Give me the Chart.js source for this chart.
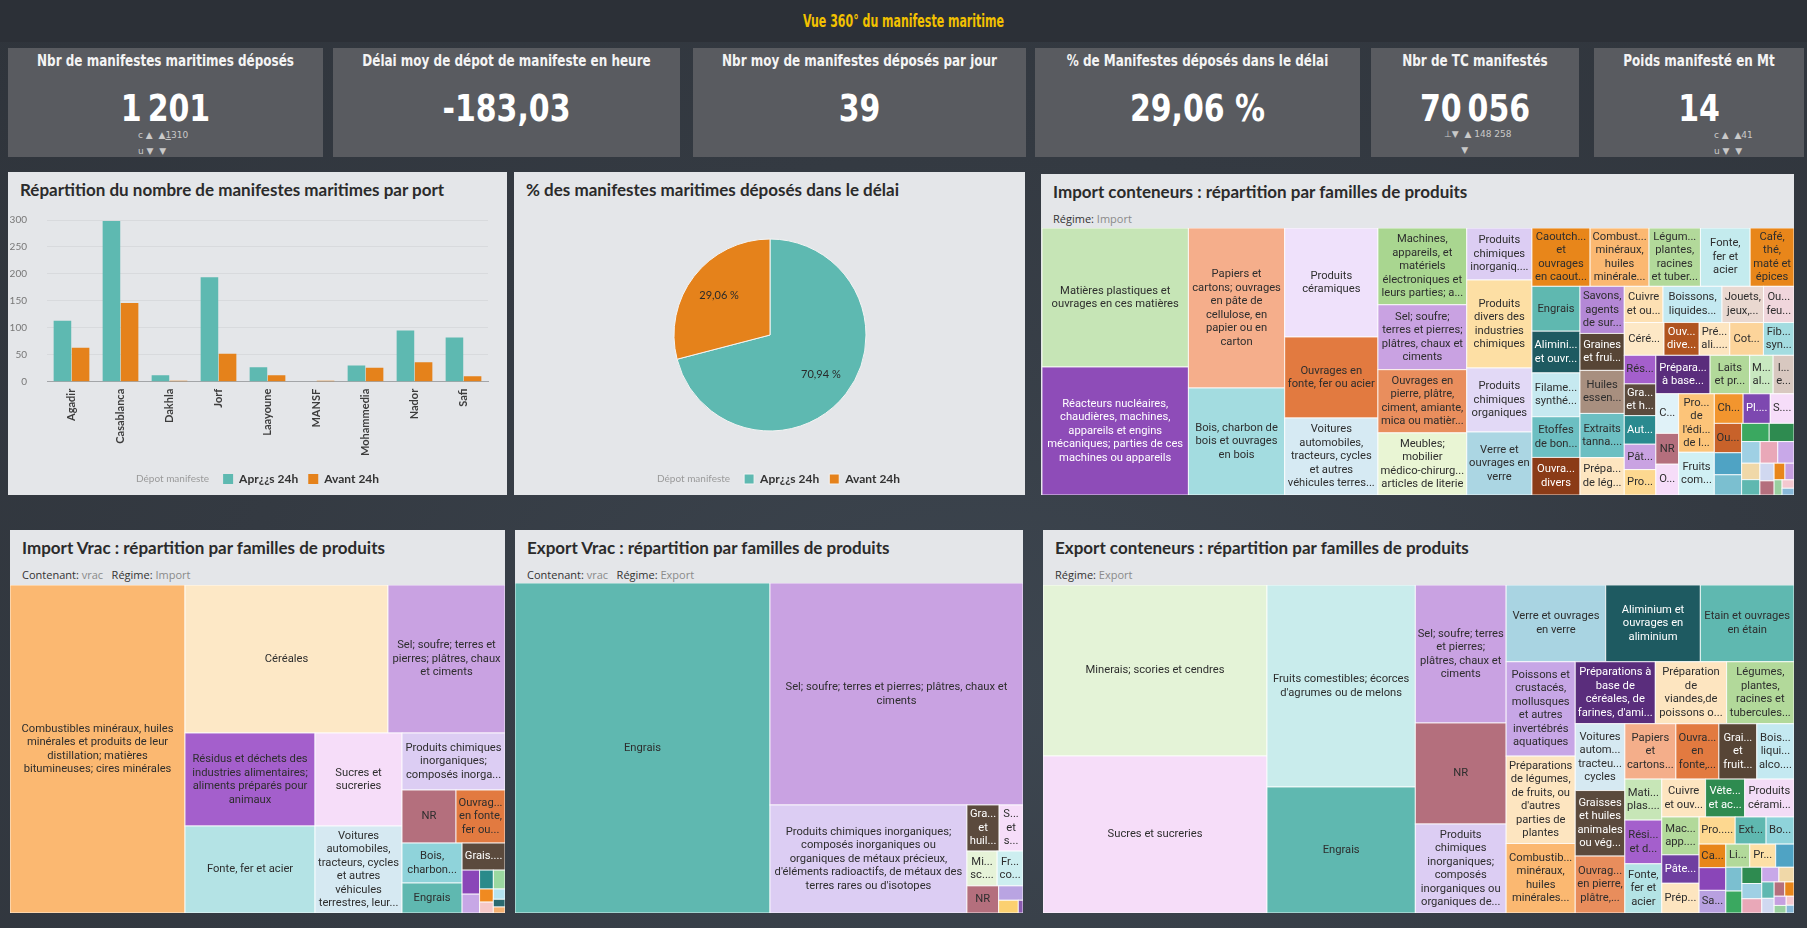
<!DOCTYPE html>
<html lang="fr">
<head>
<meta charset="utf-8">
<title>Vue 360° du manifeste maritime</title>
<script src="https://cdn.jsdelivr.net/npm/chart.js@4.4.1/dist/chart.umd.min.js"></script>
<style>
  html, body { margin: 0; padding: 0; }
  body { width: 1807px; height: 928px; overflow: hidden; position: relative;
         background: radial-gradient(ellipse at 55% 75%, #3d4650 0%, #343a42 55%, #2f343b 100%);
         font-family: Lato, 'Open Sans', sans-serif; }
  .topbar { position: absolute; left: 0; top: 0; width: 1807px; height: 42px; background: #2c3037; }
  .main-title { position: absolute; left: 0; top: 10px; width: 1807px; text-align: center; color: #f2c100;
                font: bold 18px 'DejaVu Sans Condensed', Roboto, sans-serif; transform: scaleX(0.68); }
  .kpi { position: absolute; top: 48px; height: 109px; background: #595b60; }
  .ktitle { position: absolute; top: 4px; left: -40px; right: -40px; text-align: center; color: #f4f4f4;
            font: bold 15.5px 'DejaVu Sans Condensed', Roboto, sans-serif; transform: scaleX(0.86); }
  .kval { position: absolute; top: 39px; left: -40px; right: -40px; text-align: center; color: #ffffff;
          font: bold 37px 'DejaVu Sans Condensed', Roboto, sans-serif; transform: scaleX(0.9); }
  .ind { position: absolute; color: #c9c9c9; font: 9px 'DejaVu Sans', sans-serif; line-height: 16px; white-space: pre; }
  .panel { position: absolute; background: #e4e6e9; }
  .ptitle { position: absolute; left: 12px; top: 7px; font: 700 17px Lato, sans-serif; color: #2b2b2b; white-space: nowrap; }
  .psub { position: absolute; left: 12px; top: 37px; font: 11px 'Open Sans', sans-serif; color: #333; white-space: nowrap; }
  .psub span { color: #8a8a8a; }
  canvas { position: absolute; }
</style>
</head>
<body>
<div class="topbar"></div>
<div class="main-title">Vue 360° du manifeste maritime</div>
<div id="kpis"></div>

<div class="ind" style="left:138px;top:127px">c ▲  ▲<u>1</u>310
u ▼  ▼</div>
<div class="ind" style="left:1444px;top:126px">⊥▼  ▲ 148 258
      ▼</div>
<div class="ind" style="left:1714px;top:127px">c ▲  ▲41
u ▼  ▼</div>

<div class="panel" style="left:8px;top:172px;width:499px;height:323px">
  <div class="ptitle">Répartition du nombre de manifestes maritimes par port</div>
</div>
<div class="panel" style="left:514px;top:172px;width:511px;height:323px">
  <div class="ptitle">% des manifestes maritimes déposés dans le délai</div>
</div>
<div class="panel" style="left:1041px;top:174px;width:753px;height:321px">
  <div class="ptitle">Import conteneurs : répartition par familles de produits</div>
  <div class="psub">Régime: <span>Import</span></div>
</div>
<div class="panel" style="left:10px;top:530px;width:495px;height:383px">
  <div class="ptitle">Import Vrac : répartition par familles de produits</div>
  <div class="psub">Contenant: <span>vrac</span> &nbsp; Régime: <span>Import</span></div>
</div>
<div class="panel" style="left:515px;top:530px;width:508px;height:383px">
  <div class="ptitle">Export Vrac : répartition par familles de produits</div>
  <div class="psub">Contenant: <span>vrac</span> &nbsp; Régime: <span>Export</span></div>
</div>
<div class="panel" style="left:1043px;top:530px;width:751px;height:383px">
  <div class="ptitle">Export conteneurs : répartition par familles de produits</div>
  <div class="psub">Régime: <span>Export</span></div>
</div>

<canvas id="barPorts" width="499" height="301" style="left:8px;top:194px"></canvas>
<canvas id="pieDelai" width="510" height="290" style="left:515px;top:205px"></canvas>
<canvas id="tmImportCont" width="752" height="267" style="left:1042px;top:228px"></canvas>
<canvas id="tmImportVrac" width="495" height="328" style="left:10px;top:585px"></canvas>
<canvas id="tmExportVrac" width="508" height="330" style="left:515px;top:583px"></canvas>
<canvas id="tmExportCont" width="751" height="328" style="left:1043px;top:585px"></canvas>

<script>
// ---------- Données ----------
const kpiTitles = ['Nbr de manifestes maritimes déposés', 'Délai moy de dépot de manifeste en heure',
  'Nbr moy de manifestes déposés par jour', '% de Manifestes déposés dans le délai',
  'Nbr de TC manifestés', 'Poids manifesté en Mt'];
const kpiValues = ['1\u2009201', '-183,03', '39', '29,06 %', '70\u2009056', '14'];

const ports = ['Agadir', 'Casablanca', 'Dakhla', 'Jorf', 'Laayoune', 'MANSF', 'Mohammedia', 'Nador', 'Safi'];
const apres24h = [113, 298, 12, 194, 27, 1, 30, 95, 82];
const avant24h = [63, 146, 2, 52, 12, 2, 26, 36, 10];

const depotTitle = 'Dépot manifeste';
const depotLabels = ['Apr¿¿s 24h', 'Avant 24h'];
const depotValues = [852, 349];

// Import conteneurs
const impContLabels = [
  'Matières plastiques et ouvrages en ces matières',
  'Réacteurs nucléaires, chaudières, machines, appareils et engins mécaniques; parties de ces machines ou appareils',
  'Papiers et cartons; ouvrages en pâte de cellulose, en papier ou en carton',
  'Bois, charbon de bois et ouvrages en bois',
  'Produits céramiques',
  'Ouvrages en fonte, fer ou acier',
  'Voitures automobiles, tracteurs, cycles et autres véhicules terrestres, leurs parties',
  'Machines, appareils, et matériels électroniques et leurs parties; appareils d\'enregistrement',
  'Sel; soufre; terres et pierres; plâtres, chaux et ciments',
  'Ouvrages en pierre, plâtre, ciment, amiante, mica ou matières analogues',
  'Meubles; mobilier médico-chirurgical; articles de literie',
  'Produits chimiques inorganiques; composés inorganiques ou organiques de métaux précieux',
  'Produits divers des industries chimiques',
  'Produits chimiques organiques',
  'Verre et ouvrages en verre',
  'Caoutchouc et ouvrages en caoutchouc',
  'Combustibles minéraux, huiles minérales et produits de leur distillation',
  'Légumes, plantes, racines et tubercules alimentaires',
  'Fonte, fer et acier',
  'Café, thé, maté et épices',
  'Engrais',
  'Aliminium et ouvrages en aliminium',
  'Filaments synthétiques ou artificiels',
  'Etoffes de bonneterie',
  'Ouvrages divers',
  'Savons, agents de surface organiques',
  'Graines et fruits oléagineux',
  'Huiles essentielles et résinoïdes',
  'Extraits tannants ou tinctoriaux',
  'Préparations de légumes, de fruits',
  'Cuivre et ouvrages en cuivre',
  'Boissons, liquides alcooliques et vinaigres',
  'Jouets, jeux, articles pour divertissements',
  'Ouates, feutres et nontissés',
  'Céréales',
  'Ouvrages divers en métaux communs',
  'Préparations alimentaires diverses',
  'Coton',
  'Fibres synthétiques ou artificielles discontinues',
  'Résidus et déchets des industries alimentaires',
  'Graisses et huiles animales ou végétales',
  'Autres métaux communs',
  'Pâte de bois',
  'Produits de la minoterie',
  'Préparations à base de céréales, de farines, d\'amidons',
  'Laits et produits de la laiterie',
  'Matières albuminoïdes',
  'Instruments et appareils d\'optique',
  'Chaussures',
  'NR',
  'Objets d\'art',
  'Produits de l\'édition, de la presse',
  'Fruits comestibles; écorces d\'agrumes ou de melons',
  'Chapeaux, guêtres et articles analogues',
  'Plumes et duvets',
  'Sucres et sucreries',
  'Ouvrages en cuir',
  '', '', '', '', '', '', '', '', '', '', '', '', '', '', '', ''
];
const impContValues = [20294, 18688, 15360, 10272, 10137, 7533, 7161, 6800, 5750, 5600, 5500,
  3380, 5720, 4160, 4095, 3381, 3430, 2989, 2891, 2550, 2150, 2000, 2100, 1950, 1800, 2080, 1630,
  1900, 1950, 1650, 1400, 2130, 1500, 1100, 1300, 1150, 1000, 1100, 1000, 900, 1000, 900, 800, 800,
  2080, 1520, 900, 800, 900, 700, 700, 2080, 1520, 850, 800, 700, 800,
  600, 550, 500, 450, 400, 380, 350, 300, 280, 250, 200, 180, 150, 120, 100, 80];

// Import vrac
const impVracLabels = [
  'Combustibles minéraux, huiles minérales et produits de leur distillation; matières bitumineuses; cires minérales',
  'Céréales',
  'Sel; soufre; terres et pierres; plâtres, chaux et ciments',
  'Résidus et déchets des industries alimentaires; aliments préparés pour animaux',
  'Fonte, fer et acier',
  'Sucres et sucreries',
  'Voitures automobiles, tracteurs, cycles et autres véhicules terrestres, leurs parties',
  'Produits chimiques inorganiques; composés inorganiques ou organiques de métaux précieux',
  'NR',
  'Ouvrages en fonte, fer ou acier',
  'Bois, charbon de bois et ouvrages en bois',
  'Engrais',
  'Graisses et huiles animales ou végétales',
  '', '', '', '', '', '', '', '', ''
];
const impVracValues = [57400, 30044, 17316, 12090, 11310, 8091, 7569, 5871, 2862, 2597, 2400, 1800, 1161,
  420, 330, 260, 220, 180, 150, 120, 90, 70];

// Export vrac
const expVracLabels = [
  'Engrais',
  'Sel; soufre; terres et pierres; plâtres, chaux et ciments',
  'Produits chimiques inorganiques; composés inorganiques ou organiques de métaux précieux, d\'éléments radioactifs, de métaux des terres rares ou d\'isotopes',
  'Graisses et huiles animales ou végétales',
  'Sucres et sucreries',
  'Minerais, scories et cendres',
  'Fruits comestibles; écorces d\'agrumes ou de melons',
  'NR',
  '', '', ''
];
const expVracValues = [84150, 56166, 21276, 1485, 1100, 1050, 900, 860, 350, 250, 60];

// Export conteneurs
const expContLabels = [
  'Minerais; scories et cendres',
  'Sucres et sucreries',
  'Fruits comestibles; écorces d\'agrumes ou de melons',
  'Engrais',
  'Sel; soufre; terres et pierres; plâtres, chaux et ciments',
  'NR',
  'Produits chimiques inorganiques; composés inorganiques ou organiques de métaux précieux',
  'Verre et ouvrages en verre',
  'Aliminium et ouvrages en aliminium',
  'Etain et ouvrages en étain',
  'Poissons et crustacés, mollusques et autres invertébrés aquatiques',
  'Préparations de légumes, de fruits, ou d\'autres parties de plantes',
  'Combustibles minéraux, huiles minérales et produits de leur distillation',
  'Préparations à base de céréales, de farines, d\'amidons',
  'Préparation de viandes,de poissons ou de crustacés',
  'Légumes, plantes, racines et tubercules alimentaires',
  'Voitures automobiles, tracteurs, cycles',
  'Graisses et huiles animales ou végétales',
  'Ouvrages en pierre, plâtre, ciment, amiante',
  'Papiers et cartons; ouvrages en pâte de cellulose',
  'Ouvrages en fonte, fer ou acier',
  'Graines et fruits oléagineux',
  'Boissons, liquides alcooliques et vinaigres',
  'Matières plastiques et ouvrages en ces matières',
  'Résidus et déchets des industries alimentaires',
  'Fonte, fer et acier',
  'Cuivre et ouvrages en cuivre',
  'Vêtements et accessoires du vêtement',
  'Produits céramiques',
  'Machines, appareils et matériels électriques',
  'Pâte de bois',
  'Préparations alimentaires diverses',
  'Produits de la minoterie',
  'Extraits tannants ou tinctoriaux',
  'Bois, charbon de bois',
  'Café, thé, maté et épices',
  '',
  'Savons, agents de surface',
  'Lièges et ouvrages en liège',
  'Produits divers',
  '', '', '', '', '', '', '', '', '', '', '', '', '', '', '', ''
];
const expContValues = [37962, 34854, 29694, 18522, 12420, 9090, 8010, 7575, 7200, 7125, 6460, 5984, 4760,
  4920, 4380, 4140, 3286, 3224, 2800, 2800, 2360, 2080, 2040, 1500, 1600, 1800, 1645, 1470, 1850, 1400,
  1050, 1100, 970, 830, 750, 625, 600, 600, 550, 594,
  420, 380, 350, 320, 300, 280, 250, 220, 200, 180, 150, 130, 110, 90, 70, 60];

// ---------- Styles ----------
const TEAL = '#5eb9b1';
const ORANGE = '#e5821b';
const SMALLS = ['#4fa3c4', '#7bbfd0', '#3aa860', '#2e8b50', '#9fd0e4', '#e9a8b8', '#c8a8e8', '#f0d8a8',
  '#5fb8b0', '#d0d8f0', '#b46f7d', '#e8861a', '#c69fe0', '#9ad0a0', '#f4c8d0', '#88b8d8'];

const impContColors = ['#c6e5b6', '#8e4cb8', '#f5ae8b', '#a3dce0', '#efe1fb', '#e27a40', '#d6eaf3', '#a9d690',
  '#c9a2e2', '#e98e5d', '#e9f5d4', '#dccdf3', '#fddfa4', '#e2d9f6', '#abd6e3', '#e8861a', '#fbb871', '#b2d99a',
  '#c4ebee', '#e8861a', '#5fb8b0', '#1e5a61', '#c6e9f0', '#6cbfc2', '#8b3b17', '#b488d6', '#574536', '#a88f7f',
  '#6cbfc2', '#fde5c0', '#fde0b3', '#c4e9f1', '#e9d8d0', '#f0d6dc', '#fde8c6', '#b0541f', '#fde5c0', '#fcd49a',
  '#a3dce0', '#a45fcc', '#5b4a3d', '#2a8a8f', '#c9a2e2', '#fdd890', '#5a2d7c', '#b2d99a', '#c8e8c0', '#d8c8c0',
  '#e0f2f8', '#b46f7d', '#f6ddf9', '#fcc479', '#d0f0f4', '#f2952e', '#7d48b0', '#f6ddf9', '#c8622a'
].concat(SMALLS);
const impVracColors = ['#fbb871', '#fde8c6', '#c9a2e2', '#a45fcc', '#b4e3e5', '#f6ddf9', '#d6e9f2', '#dccdf3',
  '#b46f7d', '#e27a40', '#8fd3da', '#5fb8b0', '#5b4a3d',
  '#8a46b8', '#c7a7e6', '#2a8a8a', '#9bd8a0', '#f08a20', '#f5c8c8', '#b5e3f0', '#2a6a70', '#f5b070'];
const expVracColors = ['#5fb8b0', '#c9a2e2', '#dccdf3', '#5b4a3d', '#f6ddf9', '#e6f3d8', '#cdeef0', '#b46f7d',
  '#b9a4e2', '#fbd070', '#8a5ab0'];
const expContColors = ['#e4f3d7', '#f6ddf9', '#c9ecec', '#5fb8b0', '#c9a2e2', '#b46f7d', '#dccdf3', '#a9d4e2',
  '#1e5a61', '#5fb8b0', '#c7a6e6', '#fde5c0', '#fbb871', '#5a2d7c', '#fde5c0', '#b2d99a', '#d6e9f2', '#5b4a3d',
  '#e88d5c', '#f4ae8a', '#e27a40', '#574536', '#c4e9f1', '#c7e6b7', '#a45fcc', '#b4e3e5', '#fde5c0', '#2e8b50',
  '#f3dcf6', '#b2d99a', '#6f3fa0', '#fde5c0', '#fdd890', '#5fb8b0', '#8fd3da', '#e8861a', '#8a46b8', '#b8a0e0',
  '#b2d99a', '#fde0a6'].concat(SMALLS);

const LABEL_FONT = '11.2px Roboto, "Open Sans", sans-serif';
const LINE_H = 13.5;

Chart.defaults.font.family = 'Lato, "Open Sans", sans-serif';

// ---------- KPI ----------
const kpiBoxes = [[8, 315], [333, 347], [693, 333], [1035, 325], [1371, 208], [1594, 210]];
const kpiHost = document.getElementById('kpis');
kpiTitles.forEach((t, i) => {
  const d = document.createElement('div');
  d.className = 'kpi';
  d.style.left = kpiBoxes[i][0] + 'px';
  d.style.width = kpiBoxes[i][1] + 'px';
  d.innerHTML = '<div class="ktitle"></div><div class="kval"></div>';
  d.querySelector('.ktitle').textContent = t;
  d.querySelector('.kval').textContent = kpiValues[i];
  kpiHost.appendChild(d);
});

// ---------- Légende avec titre "Dépot manifeste" ----------
function withTitleItem(chart) {
  const base = chart.config.type === 'pie'
    ? Chart.overrides.pie.plugins.legend.labels.generateLabels(chart)
    : Chart.defaults.plugins.legend.labels.generateLabels(chart);
  base.unshift({ text: 'Dépot manifes', fillStyle: 'rgba(0,0,0,0)', strokeStyle: 'rgba(0,0,0,0)',
    lineWidth: 0, fontColor: 'rgba(0,0,0,0)', hidden: false, datasetIndex: -1, index: -1 });
  return base;
}
const legendTitlePlugin = {
  id: 'legendTitle',
  afterDraw(chart) {
    const boxes = chart.legend && chart.legend.legendHitBoxes;
    if (!boxes || boxes.length < 2) return;
    const b = boxes[1];
    const ctx = chart.ctx;
    ctx.save();
    ctx.font = '10px Lato, sans-serif';
    ctx.fillStyle = '#9a9a9a';
    ctx.textAlign = 'right';
    ctx.textBaseline = 'middle';
    ctx.fillText(depotTitle, b.left - 14, b.top + b.height / 2);
    ctx.restore();
  }
};
const legendOpts = {
  position: 'bottom',
  labels: { boxWidth: 10, boxHeight: 10, padding: 10, color: '#333',
    font: { size: 12, weight: 'bold' }, generateLabels: withTitleItem }
};

// ---------- Barres par port ----------
new Chart(document.getElementById('barPorts'), {
  type: 'bar',
  data: {
    labels: ports,
    datasets: [
      { label: depotLabels[0], data: apres24h, backgroundColor: TEAL, categoryPercentage: 0.74, barPercentage: 0.97 },
      { label: depotLabels[1], data: avant24h, backgroundColor: ORANGE, categoryPercentage: 0.74, barPercentage: 0.97 }
    ]
  },
  options: {
    responsive: false,
    animation: false,
    layout: { padding: { top: 9, left: 2, right: 19, bottom: 0 } },
    plugins: { legend: legendOpts, tooltip: { enabled: false } },
    scales: {
      x: {
        grid: { display: false, drawTicks: false },
        border: { color: '#a3a5a8' },
        ticks: { minRotation: 90, maxRotation: 90, padding: 7, color: '#3c3c3c',
          font: { size: 11, weight: 'bold' } },
        afterFit(scale) { scale.height += 0; }
      },
      y: {
        min: 0, max: 300,
        ticks: { stepSize: 50, padding: 20, color: '#777', font: { size: 10 } },
        grid: { color: '#d8dadd', drawTicks: false },
        border: { display: false },
        afterFit(scale) { scale.width = 37; }
      }
    }
  },
  plugins: [legendTitlePlugin]
});

// ---------- Secteurs ----------
const pieLabelPlugin = {
  id: 'pieLabels',
  afterDatasetsDraw(chart) {
    const ctx = chart.ctx;
    const ds = chart.data.datasets[0].data;
    const total = ds.reduce((a, b) => a + b, 0);
    ctx.save();
    ctx.font = '11px Lato, sans-serif';
    ctx.fillStyle = '#2a2a2a';
    ctx.textAlign = 'center';
    ctx.textBaseline = 'middle';
    chart.getDatasetMeta(0).data.forEach((arc, i) => {
      const p = arc.getProps(['x', 'y', 'startAngle', 'endAngle', 'outerRadius'], true);
      const mid = (p.startAngle + p.endAngle) / 2;
      const r = p.outerRadius * 0.67;
      const txt = (ds[i] / total * 100).toFixed(2).replace('.', ',') + ' %';
      ctx.fillText(txt, p.x + Math.cos(mid) * r, p.y + Math.sin(mid) * r);
    });
    ctx.restore();
  }
};
new Chart(document.getElementById('pieDelai'), {
  type: 'pie',
  data: {
    labels: depotLabels,
    datasets: [{ data: depotValues, backgroundColor: [TEAL, ORANGE], borderColor: '#f3f3f3', borderWidth: 1, radius: 96 }]
  },
  options: {
    responsive: false,
    animation: false,
    layout: { padding: { top: 2 } },
    plugins: { legend: legendOpts, tooltip: { enabled: false } }
  },
  plugins: [legendTitlePlugin, pieLabelPlugin]
});

// ---------- Treemaps ----------
function squarify(vals, x0, y0, w0, h0) {
  const out = [];
  let x = x0, y = y0, w = w0, h = h0, i = 0;
  const worst = (row, side) => {
    const s = row.reduce((a, b) => a + b, 0);
    const t = s / side;
    let m = 0;
    row.forEach(v => { const l = v / t; m = Math.max(m, l / t, t / l); });
    return m;
  };
  while (i < vals.length) {
    const side = Math.min(w, h);
    let row = [vals[i]], j = i + 1, best = worst(row, side);
    while (j < vals.length) {
      const cand = row.concat(vals[j]);
      const wr = worst(cand, side);
      if (wr > best) break;
      row = cand; best = wr; j++;
    }
    const sum = row.reduce((a, b) => a + b, 0);
    if (w >= h) {
      const cw = sum / h;
      let cy = y;
      row.forEach(v => { out.push({ x: x, y: cy, w: cw, h: v / cw }); cy += v / cw; });
      x += cw; w -= cw;
    } else {
      const rh = sum / w;
      let cx = x;
      row.forEach(v => { out.push({ x: cx, y: y, w: v / rh, h: rh }); cx += v / rh; });
      y += rh; h -= rh;
    }
    i = j;
  }
  return out;
}

function cut(ctx, s, maxW) {
  if (ctx.measureText(s).width <= maxW) return s;
  let t = s;
  while (t.length > 0 && ctx.measureText(t + '...').width > maxW) t = t.slice(0, -1);
  return t.length ? t.trimEnd() + '...' : '';
}

function wrapLabel(ctx, text, maxW, maxLines) {
  const lines = [];
  let cur = '';
  for (const w0 of text.split(' ')) {
    const w = cut(ctx, w0, maxW);
    if (!w) return [];
    const test = cur ? cur + ' ' + w : w;
    if (!cur || ctx.measureText(test).width <= maxW) cur = test;
    else { lines.push(cur); cur = w; }
  }
  if (cur) lines.push(cur);
  if (lines.length <= maxLines) return lines;
  const kept = lines.slice(0, maxLines);
  kept[maxLines - 1] = cut(ctx, kept[maxLines - 1] + ' ' + lines[maxLines], maxW);
  return kept;
}

function isDark(hex) {
  const n = parseInt(hex.slice(1), 16);
  const lum = 0.299 * (n >> 16) + 0.587 * ((n >> 8) & 255) + 0.114 * (n & 255);
  return lum < 115;
}

function treemapPlugin(labels, values, colors) {
  return {
    id: 'treemapCells',
    afterDatasetsDraw(chart) {
      const ctx = chart.ctx;
      const xs = chart.scales.x, ys = chart.scales.y;
      const total = values.reduce((a, b) => a + b, 0);
      const k = (xs.max - xs.min) * (ys.max - ys.min) / total;
      const cells = squarify(values.map(v => v * k), xs.min, ys.min, xs.max - xs.min, ys.max - ys.min);
      cells.forEach((c, i) => {
        const l = xs.getPixelForValue(c.x), r = xs.getPixelForValue(c.x + c.w);
        const t = ys.getPixelForValue(c.y), b = ys.getPixelForValue(c.y + c.h);
        ctx.save();
        ctx.fillStyle = colors[i % colors.length];
        ctx.fillRect(l, t, r - l, b - t);
        ctx.strokeStyle = 'rgba(255,255,255,0.8)';
        ctx.lineWidth = 1;
        ctx.strokeRect(l, t, r - l, b - t);
        const label = labels[i];
        const cw = r - l - 4, ch = b - t - 4;
        if (label && cw >= 12 && ch >= 11) {
          ctx.beginPath();
          ctx.rect(l, t, r - l, b - t);
          ctx.clip();
          ctx.font = LABEL_FONT;
          const maxLines = Math.max(1, Math.floor(ch / LINE_H));
          const lines = wrapLabel(ctx, label, cw, maxLines);
          if (lines.length && lines[0]) {
            ctx.fillStyle = isDark(colors[i % colors.length]) ? '#ffffff' : '#2e2e2e';
            ctx.textAlign = 'center';
            ctx.textBaseline = 'middle';
            const y0 = (t + b) / 2 - (lines.length - 1) * LINE_H / 2;
            lines.forEach((s, n) => ctx.fillText(s, (l + r) / 2, y0 + n * LINE_H));
          }
        }
        ctx.restore();
      });
    }
  };
}

function makeTreemap(id, labels, values, colors) {
  const el = document.getElementById(id);
  return new Chart(el, {
    type: 'scatter',
    data: { datasets: [{ data: [] }] },
    options: {
      responsive: false,
      animation: false,
      layout: { padding: 0 },
      plugins: { legend: { display: false }, tooltip: { enabled: false } },
      scales: {
        x: { type: 'linear', min: 0, max: el.width, display: false },
        y: { type: 'linear', min: 0, max: el.height, reverse: true, display: false }
      }
    },
    plugins: [treemapPlugin(labels, values, colors)]
  });
}

makeTreemap('tmImportCont', impContLabels, impContValues, impContColors);
makeTreemap('tmImportVrac', impVracLabels, impVracValues, impVracColors);
makeTreemap('tmExportVrac', expVracLabels, expVracValues, expVracColors);
makeTreemap('tmExportCont', expContLabels, expContValues, expContColors);
</script>
</body>
</html>
